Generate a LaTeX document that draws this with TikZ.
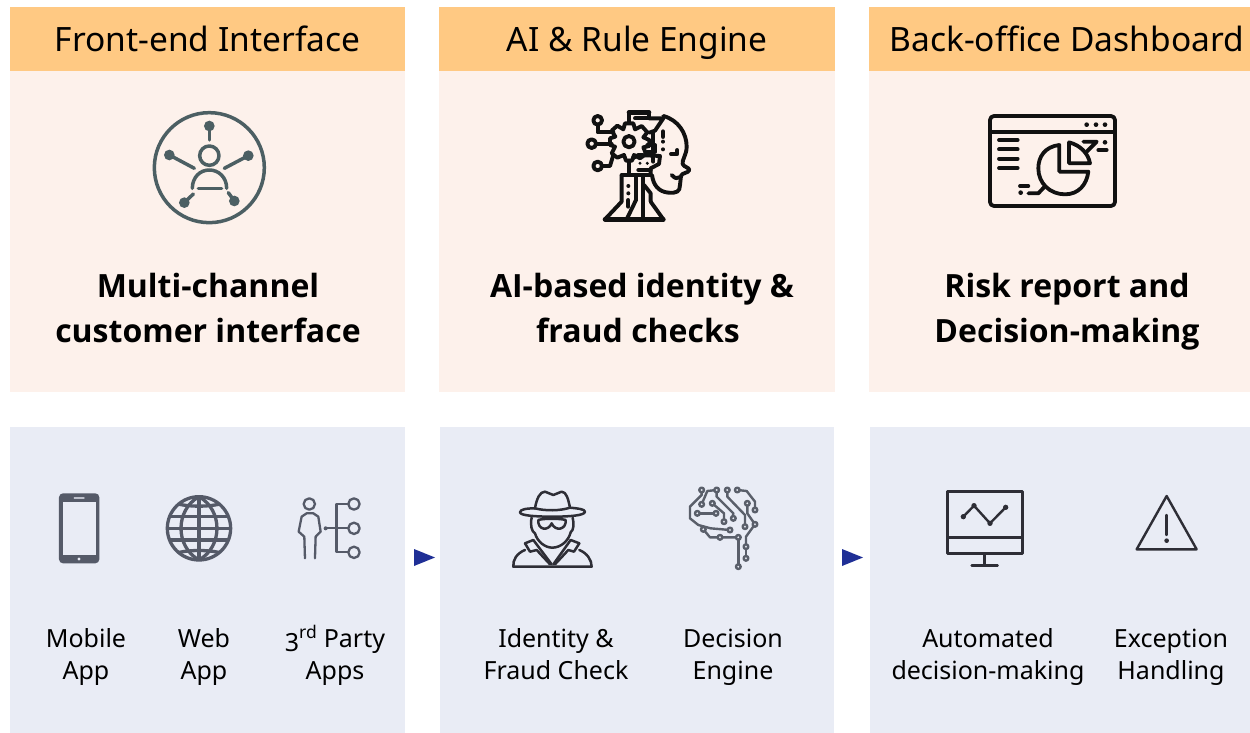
\documentclass[tikz,border=0pt]{standalone}
\usepackage{fontspec}
\setmainfont{Noto Sans}
\newfontfamily\titlefont{Open Sans}
\definecolor{headc}{HTML}{FFC983}
\definecolor{bodyc}{HTML}{FDF1EB}
\definecolor{lowc}{HTML}{E9ECF5}
\definecolor{arrc}{HTML}{1F2F96}
\definecolor{ic1}{HTML}{4C5F63}
\definecolor{ic2}{HTML}{555A68}
\definecolor{ic3}{HTML}{111111}
\definecolor{ic4}{HTML}{5A5F6A}
\definecolor{ic5}{HTML}{2E2E36}
\tikzset{
 header/.style={fill=headc,inner sep=0pt,anchor=north west,text=black,text height=24pt,text depth=0pt,font=\fontsize{33.5}{36}\selectfont},
 panel/.style={inner sep=0pt,anchor=north west},
 title/.style={align=center,font=\fontsize{32}{44.5}\titlefont\selectfont\bfseries,inner sep=0pt},
 lbl/.style={align=center,font=\fontsize{25}{32}\selectfont,inner sep=0pt},
 zoomed/.style={x=0.3333pt,y=-0.3333pt},
 ln/.style={line cap=round,line join=round}
}
\begin{document}
\begin{tikzpicture}[x=1pt,y=-1pt]
\useasboundingbox (0,0) rectangle (1250,733);
% panels
\node[panel,fill=bodyc,minimum width=395pt,minimum height=321pt] (b1) at (10,71) {};
\node[panel,fill=bodyc,minimum width=396pt,minimum height=321pt] (b2) at (439,71) {};
\node[panel,fill=bodyc,minimum width=381pt,minimum height=321pt] (b3) at (869,71) {};
\node[header,minimum width=395pt,minimum height=64pt] (h1) at (10,7) {Front-end Interface};
\node[header,minimum width=396pt,minimum height=64pt] (h2) at (439,7) {AI \& Rule Engine};
\node[header,minimum width=381pt,minimum height=64pt] (h3) at (869,7) {\hspace*{14pt}Back-office Dashboard};
\node[panel,fill=lowc,minimum width=395pt,minimum height=306pt] (l1) at (10,427) {};
\node[panel,fill=lowc,minimum width=394pt,minimum height=306pt] (l2) at (440,427) {};
\node[panel,fill=lowc,minimum width=380pt,minimum height=306pt] (l3) at (870,427) {};
% titles
\node[title] (t1) at (208,311) {\strut Multi-channel\\\strut customer interface};
\node[title] (t2) at (642,311) {\strut AI-based identity \&\\\strut fraud checks\hspace*{8pt}};
\node[title] (t3) at (1067,311) {\strut Risk report and\\\strut Decision-making};
% labels
\node[lbl] (a1) at (86,657) {\strut Mobile\\\strut App};
\node[lbl] (a2) at (204,657) {\strut Web\\\strut App};
\node[lbl] (a3) at (335,657) {\strut\raisebox{-4pt}{3}\textsuperscript{rd} Party\\\strut Apps};
\node[lbl] (a4) at (556,657) {\strut Identity \&\\\strut Fraud Check};
\node[lbl] (a5) at (733,657) {\strut Decision\\\strut Engine};
\node[lbl] (a6) at (988,657) {\strut Automated\\\strut decision-making};
\node[lbl] (a7) at (1171,657) {\strut Exception\\\strut Handling};
% arrows
\fill[arrc] (414,549) -- (435,557.5) -- (414,566) -- cycle;
\fill[arrc] (842,549) -- (863,557.5) -- (842,566) -- cycle;
% icon 1
\begin{scope}[shift={(130,90)},zoomed,ic1,line width=3.5pt,ln]
\draw (238,233) circle[radius=165];
\draw (238,197) circle[radius=29];
\draw (187,295) .. controls (187,262) and (210,240) .. (238,240) .. controls (266,240) and (290,262) .. (290,295);
\draw (205,295) -- (275,295);
\draw (238,108) -- (238,150);
\draw (118,195) -- (193,235);
\draw (355,197) -- (283,235);
\draw (163,338) -- (190,312);
\draw (313,333) -- (295,308);
\foreach \p in {(238,108),(118,195),(355,197),(163,338),(313,333)} \fill \p circle[radius=16];
\end{scope}
% icon 2
\begin{scope}[shift={(560,90)},zoomed,ic3,line width=3.9pt,ln]
\draw (113,91) circle[radius=13];
\draw (95,161) circle[radius=13];
\draw (113,228) circle[radius=13];
\draw (113,104) -- (113,127) -- (160,127);
\draw (108,161) -- (155,161);
\draw (126,228) -- (150,228) -- (160,195);
\draw (207,155) circle[radius=17];
% gear
\draw (195,100) -- (220,100) -- (225,118) -- (245,108) -- (262,127) -- (250,142) -- (268,150) -- (268,168) -- (250,172) -- (258,192) -- (240,205) -- (222,195) -- (216,212) -- (198,212) -- (192,195) -- (172,203) -- (155,190) -- (165,170) -- (150,165) -- (150,145) -- (166,140) -- (155,122) -- (172,107) -- (190,118) -- cycle;
% top piece
\draw (207,97) -- (207,67) -- (267,67) -- (267,85) -- (310,85) -- (285,122) -- (268,128);
\draw[line width=4.6pt] (207,67) -- (267,67);
\draw (225,85) -- (267,85);
% face
\draw (310,78) .. controls (355,90) and (380,130) .. (380,170) .. controls (380,195) and (365,210) .. (368,222) .. controls (372,232) and (388,232) .. (388,240) .. controls (385,250) and (365,248) .. (363,258) -- (360,285) .. controls (360,305) and (350,310) .. (325,308) .. controls (295,305) and (280,285) .. (276,255);
\draw (333,192) -- (352,192) -- (352,180);
\draw (335,255) .. controls (345,265) and (352,268) .. (358,262);
\draw (280,130) -- (280,215);
\draw (262,165) -- (285,165) -- (285,185) -- (262,185);
\foreach \p in {(309,155),(309,178)} \fill \p circle[radius=6];
\draw[line width=4.6pt] (309,125) -- (309,140);
% mid piece
\draw (207,212) -- (207,255);
\draw (218,205) -- (235,195) -- (300,198) -- (297,222) -- (272,235) -- (272,255);
\draw (235,240) -- (272,240);
\foreach \p in {(240,220),(262,220)} \fill \p circle[radius=5];
% body
\draw (185,255) -- (272,255);
\draw (185,255) -- (185,335) -- (135,388) -- (310,388) -- (272,335);
\draw[line width=4.6pt] (135,388) -- (310,388);
\draw (228,255) -- (228,330) -- (200,388);
\draw (250,255) -- (250,388);
\draw (272,335) -- (272,310) -- (252,285);
\draw (205,350) -- (205,330);
\foreach \p in {(205,288),(205,310)} \fill \p circle[radius=6];
\end{scope}
% icon 3
\begin{scope}[shift={(970,100)},zoomed,ic3,line width=3.8pt,ln]
\draw[rounded corners=4pt] (60,48) rectangle (435,318);
\draw (60,95) -- (435,95);
\foreach \x in {350,378,405} \fill (\x,74) circle[radius=7];
\foreach \y in {120,148,176,204} \draw (87,\y) -- (143,\y);
\draw (268,135) .. controls (225,140) and (205,170) .. (205,205) .. controls (205,250) and (240,283) .. (285,283) .. controls (325,283) and (350,255) .. (355,215) -- (268,215) -- cycle;
\draw (297,127) -- (297,190) -- (360,190) .. controls (355,160) and (330,135) .. (297,127) -- cycle;
\draw (340,125) -- (380,125) -- (350,155);
\draw (385,150) -- (410,150);
\fill (405,127) circle[radius=7];
\draw (150,258) -- (175,258);
\fill (152,278) circle[radius=7];
\draw (175,280) -- (205,280) -- (222,262);
\end{scope}
% phone, globe, third-party
\begin{scope}[shift={(40,480)},zoomed,ic2,line width=2.3pt,ln]
\fill[rounded corners=4pt] (57,40) rectangle (178,250);
\fill[lowc] (68,66) rectangle (167,226);
\draw[lowc!70!ic2,line width=1.5pt] (103,54) -- (132,54);
\fill[lowc] (117,237) circle[radius=5];
% globe
\begin{scope}[line width=3.3pt]
\draw (477,145) circle[radius=95];
\begin{scope}
\clip (477,145) circle[radius=95];
\draw (477,50) -- (477,240);
\draw (382,145) -- (572,145);
\draw (477,50) .. controls (405,90) and (405,200) .. (477,240);
\draw (477,50) .. controls (549,90) and (549,200) .. (477,240);
\draw (382,110) -- (572,110);
\draw (382,180) -- (572,180);
\draw (400,68) .. controls (440,82) and (514,82) .. (554,68);
\draw (400,222) .. controls (440,208) and (514,208) .. (554,222);
\end{scope}
\end{scope}
% person and tree
\draw (808,72) circle[radius=17];
\draw (795,235) -- (793,170) -- (776,155) -- (785,110) -- (800,100) -- (820,100) -- (835,110) -- (842,155) -- (827,170) -- (825,235);
\foreach \y in {72,145,217} \draw (942,\y) circle[radius=17];
\draw (925,72) -- (890,72) -- (890,217) -- (925,217);
\draw (857,145) -- (925,145);
\fill (857,145) circle[radius=6];
\end{scope}
% detective and brain
\begin{scope}[shift={(500,475)},zoomed,ic5,line width=2.5pt,ln]
\draw (105,100) .. controls (80,100) and (60,103) .. (60,112) .. controls (60,122) and (110,125) .. (157,125) .. controls (205,125) and (255,122) .. (255,110) .. controls (255,102) and (230,100) .. (210,98);
\draw (105,100) .. controls (110,70) and (120,50) .. (135,50) .. controls (145,50) and (150,60) .. (160,60) .. controls (170,60) and (175,50) .. (185,50) .. controls (200,50) and (205,75) .. (210,98);
\draw (105,100) .. controls (135,108) and (180,108) .. (210,98);
\draw (95,128) .. controls (90,150) and (95,170) .. (105,175) .. controls (112,200) and (135,218) .. (157,218) .. controls (180,218) and (205,200) .. (212,172) .. controls (222,165) and (222,145) .. (218,128);
\draw (115,135) .. controls (112,165) and (145,170) .. (155,145) .. controls (165,170) and (200,165) .. (197,135) .. controls (180,130) and (130,130) .. (115,135) -- cycle;
\draw (75,205) -- (100,195) -- (155,268);
\draw (238,205) -- (212,195) -- (160,268);
\draw (75,205) -- (90,230) -- (110,225) -- (150,268);
\draw (238,205) -- (222,230) -- (205,225) -- (165,268);
\draw (75,225) .. controls (50,235) and (38,255) .. (40,275) -- (275,275) .. controls (275,255) and (262,235) .. (238,225);
\end{scope}
\begin{scope}[shift={(500,475)},zoomed,ic4,line width=2.4pt,ln]
\draw (605,45) -- (605,60) -- (570,95) -- (570,130) -- (595,150);
\draw (650,45) -- (622,48) -- (605,88);
\draw (650,45) -- (650,65) -- (700,115) -- (698,130);
\draw (682,45) -- (682,65) -- (735,120) -- (735,155);
\draw (712,45) -- (740,48) -- (765,80) -- (765,105);
\draw (742,85) -- (742,115) -- (765,148) -- (738,185) -- (738,215);
\draw (592,115) -- (648,115);
\draw (637,85) -- (672,115) -- (672,140);
\draw (595,150) -- (632,160) -- (690,165);
\draw (610,163) -- (630,187) -- (715,187);
\draw (715,187) -- (715,275);
\draw (738,215) -- (738,250);
\foreach \p in {(605,45),(650,45),(682,45),(712,45),(605,88),(637,85),(742,85),(765,105),(592,115),(648,115),(700,130),(672,140),(735,155),(765,148),(690,165),(610,163),(660,187),(715,187),(738,215),(738,250),(715,275)} \filldraw[fill=lowc] \p circle[radius=7];
\end{scope}
% monitor and warning
\begin{scope}[shift={(930,480)},zoomed,ic5,line width=2.4pt,ln]
\draw (52,35) rectangle (277,220);
\draw (52,173) -- (277,173);
\draw (163,220) -- (163,257);
\draw (125,257) -- (203,257);
\draw (100,110) -- (132,77) -- (180,130) -- (227,82);
\foreach \p in {(100,110),(132,77),(180,130),(227,82)} \fill \p circle[radius=8];
\draw (710,48) -- (800,208) -- (620,208) -- cycle;
\draw (710,105) -- (710,165);
\fill (710,182) circle[radius=7];
\end{scope}
\end{tikzpicture}
\end{document}
